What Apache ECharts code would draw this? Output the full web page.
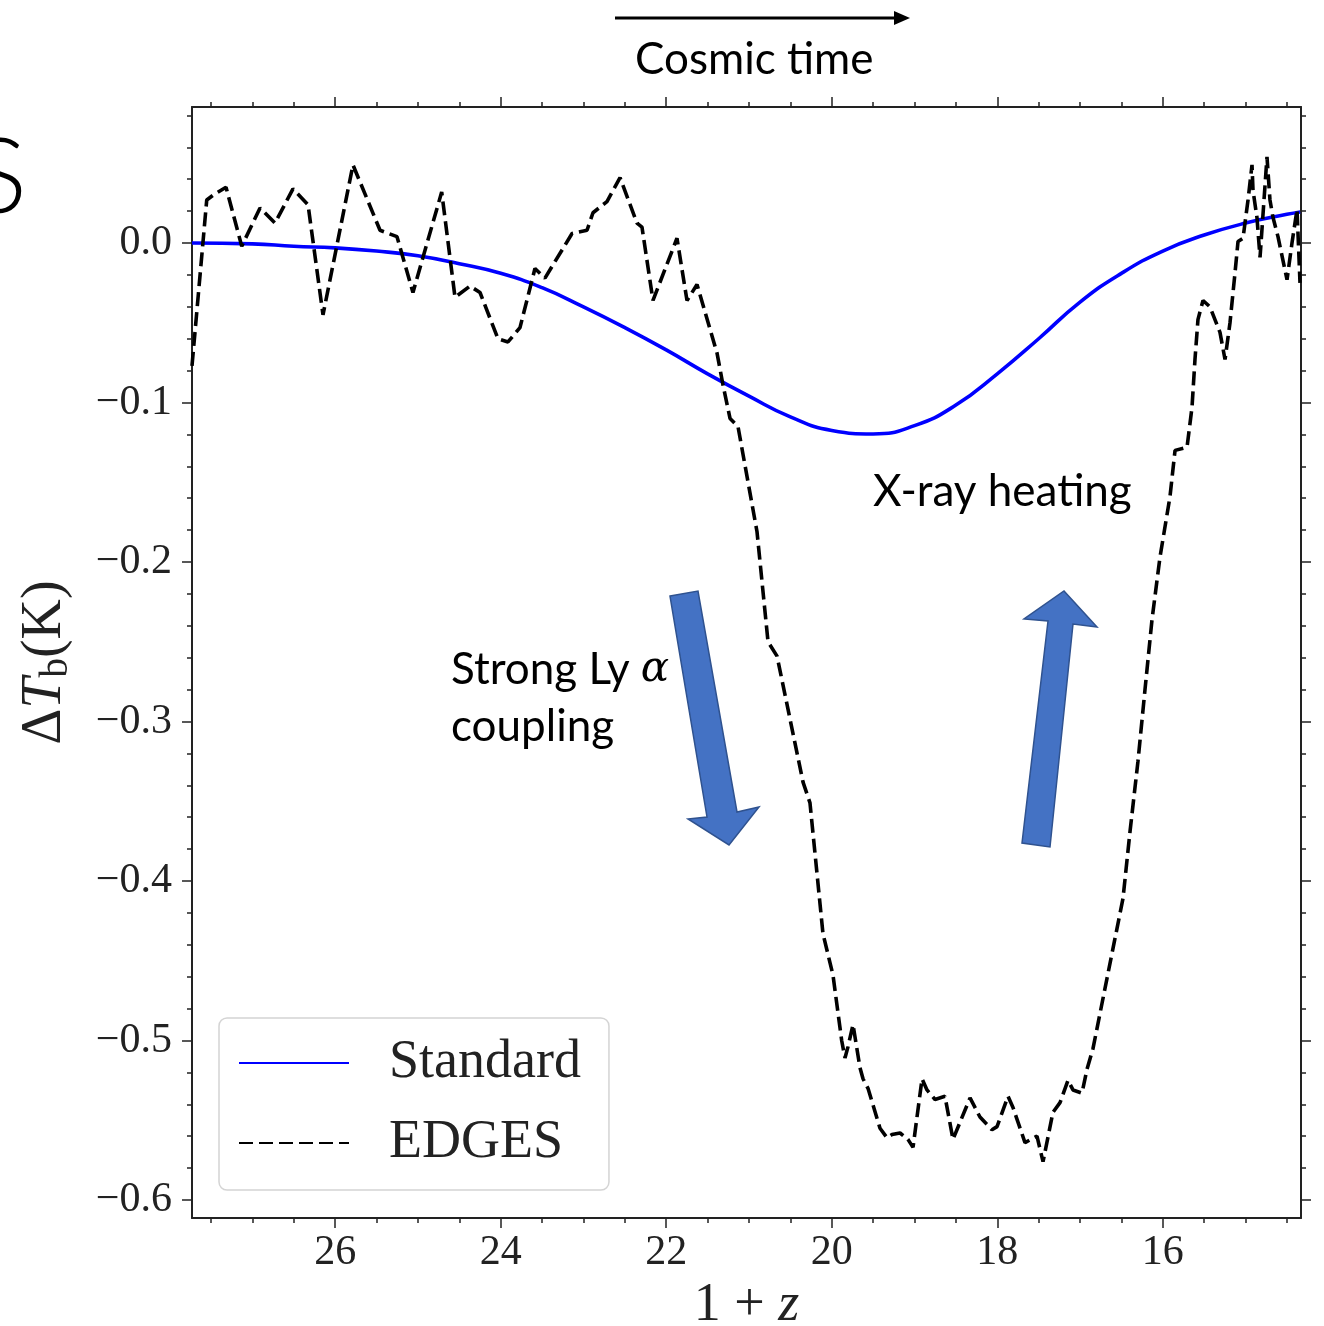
<!DOCTYPE html>
<html>
<head>
<meta charset="utf-8">
<script src="https://cdn.jsdelivr.net/npm/echarts@6/dist/echarts.min.js"></script>
<style>
html,body{margin:0;padding:0;background:#fff;}
#chart{width:1324px;height:1326px;}
</style>
</head>
<body>
<div id="chart"></div>
<script>
// ---- data ----
const standardX = [27.73, 27.0, 26.5, 26.0, 25.5, 25.0, 24.5, 24.0, 23.5, 23.0, 22.5, 22.0, 21.5, 21.0, 20.5, 20.0, 19.5, 19.0, 18.5, 18.0, 17.5, 17.0, 16.5, 16.0, 15.5, 15.0, 14.5, 14.34];
const standardY = [0.000, -0.0005, -0.002, -0.003, -0.005, -0.008, -0.013, -0.019, -0.028, -0.040, -0.053, -0.067, -0.082, -0.096, -0.109, -0.1175, -0.1197, -0.1145, -0.1016, -0.082, -0.060, -0.037, -0.019, -0.005, 0.005, 0.0125, 0.018, 0.0195];

const edgesX = [27.73, 27.552, 27.476, 27.319, 27.129, 26.908, 26.727, 26.510, 26.328, 26.147, 25.785, 25.458, 25.253, 25.060, 24.713, 24.552, 24.371, 24.250, 24.033, 23.912, 23.767, 23.586, 23.465, 23.138, 22.957, 22.885, 22.716, 22.558, 22.353, 22.293, 22.160, 21.870, 21.749, 21.628, 21.386, 21.314, 21.229, 21.133, 20.903, 20.770, 20.661, 20.347, 20.263, 20.106, 19.985, 19.880, 19.840, 19.804, 19.743, 19.659, 19.622, 19.562, 19.417, 19.332, 19.272, 19.175, 19.079, 19.018, 18.909, 18.849, 18.752, 18.632, 18.535, 18.329, 18.209, 18.064, 18.003, 17.870, 17.810, 17.665, 17.520, 17.447, 17.327, 17.242, 17.145, 17.085, 16.976, 16.916, 16.843, 16.674, 16.481, 16.396, 16.300, 16.215, 16.130, 16.034, 15.913, 15.852, 15.707, 15.647, 15.611, 15.575, 15.514, 15.430, 15.309, 15.248, 15.188, 15.128, 15.091, 15.031, 14.970, 14.922, 14.910, 14.862, 14.825, 14.741, 14.705, 14.668, 14.608, 14.499, 14.439, 14.378, 14.342];
const edgesY = [-0.077, 0.027, 0.030, 0.035, -0.002, 0.022, 0.0125, 0.034, 0.024, -0.045, 0.049, 0.008, 0.004, -0.031, 0.032, -0.034, -0.027, -0.031, -0.060, -0.062, -0.053, -0.016, -0.022, 0.006, 0.008, 0.019, 0.026, 0.041, 0.0125, 0.010, -0.036, 0.003, -0.036, -0.026, -0.069, -0.089, -0.110, -0.115, -0.181, -0.250, -0.259, -0.338, -0.351, -0.433, -0.459, -0.500, -0.511, -0.504, -0.490, -0.517, -0.524, -0.530, -0.555, -0.561, -0.559, -0.558, -0.562, -0.567, -0.524, -0.531, -0.537, -0.535, -0.562, -0.536, -0.548, -0.556, -0.554, -0.535, -0.542, -0.564, -0.560, -0.576, -0.545, -0.539, -0.525, -0.531, -0.533, -0.518, -0.505, -0.461, -0.411, -0.369, -0.325, -0.280, -0.236, -0.197, -0.159, -0.130, -0.128, -0.103, -0.073, -0.048, -0.036, -0.040, -0.056, -0.073, -0.050, -0.019, 0.001, 0.003, 0.027, 0.049, 0.033, 0.016, -0.009, 0.054, 0.027, 0.016, 0.004, -0.023, 0.000, 0.021, -0.025];

const xMajorTicks = [16, 18, 20, 22, 24, 26];
const xMinorTicks = [14.5, 15, 15.5, 16.5, 17, 17.5, 18.5, 19, 19.5, 20.5, 21, 21.5, 22.5, 23, 23.5, 24.5, 25, 25.5, 26.5, 27, 27.5];
const yMajorTicks = [-0.6, -0.5, -0.4, -0.3, -0.2, -0.1, 0.0];
const yMinorTicks = [-0.58, -0.56, -0.54, -0.52, -0.48, -0.46, -0.44, -0.42, -0.38, -0.36, -0.34, -0.32, -0.28, -0.26, -0.24, -0.22, -0.18, -0.16, -0.14, -0.12, -0.08, -0.06, -0.04, -0.02, 0.02, 0.04, 0.06, 0.08];

const seriesNames = ['Standard', 'EDGES'];
const xRange = [14.33, 27.73];
const yRange = [-0.6113, 0.0853];

// ---- styling ----
const SERIF = '"Liberation Serif", "DejaVu Serif", serif';
const SANS = 'Lato, "Open Sans", "Noto Sans", sans-serif';
const INK = '#222';

function zip(a, b) { return a.map((v, i) => [v, b[i]]); }

function xAxisDef(position, ticks, len, showLine, showLabels, extra) {
  return Object.assign({
    type: 'value', position: position, inverse: true,
    min: xRange[0], max: xRange[1],
    splitLine: { show: false },
    axisLine: { show: showLine, onZero: false, lineStyle: { color: INK, width: 2 } },
    axisTick: { show: true, inside: false, length: len, customValues: ticks, lineStyle: { color: INK, width: 1.5 } },
    axisLabel: showLabels ? { show: true, customValues: ticks, margin: 14, fontFamily: SERIF, fontSize: 42, color: INK } : { show: false }
  }, extra || {});
}
function yAxisDef(position, ticks, len, showLine, showLabels, extra) {
  return Object.assign({
    type: 'value', position: position,
    min: yRange[0], max: yRange[1],
    splitLine: { show: false },
    axisLine: { show: showLine, onZero: false, lineStyle: { color: INK, width: 2 } },
    axisTick: { show: true, inside: false, length: len, customValues: ticks, lineStyle: { color: INK, width: 1.5 } },
    axisLabel: showLabels ? {
      show: true, customValues: ticks, margin: 20, fontFamily: SERIF, fontSize: 42, color: INK,
      formatter: v => (v < 0 ? '\u2212' : '') + Math.abs(v).toFixed(1)
    } : { show: false }
  }, extra || {});
}

const chart = echarts.init(document.getElementById('chart'), null, { renderer: 'canvas' });

const option = {
  backgroundColor: '#ffffff',
  animation: false,
  grid: { left: 192, right: 23, top: 107, bottom: 108, containLabel: false, outerBoundsMode: 'none' },
  xAxis: [
    xAxisDef('bottom', xMajorTicks, 10, true, true, {
      name: '1 + {i|z}', nameLocation: 'middle', nameGap: 60,
      nameTextStyle: { fontFamily: SERIF, fontSize: 54, color: INK,
        rich: { i: { fontFamily: SERIF, fontStyle: 'italic', fontSize: 54, color: INK } } }
    }),
    xAxisDef('bottom', xMinorTicks, 5, false, false),
    xAxisDef('top', xMajorTicks, 10, true, false),
    xAxisDef('top', xMinorTicks, 5, false, false)
  ],
  yAxis: [
    yAxisDef('left', yMajorTicks, 10, true, true, {
      name: '{n|\u0394}{t|T}{s|b}{n|(K)}', nameLocation: 'middle', nameGap: 116, nameRotate: 90,
      nameTextStyle: { fontFamily: SERIF, fontSize: 56, color: INK,
        rich: {
          n: { fontFamily: SERIF, fontSize: 56, lineHeight: 62, color: INK },
          t: { fontFamily: SERIF, fontStyle: 'italic', fontSize: 56, lineHeight: 62, color: INK },
          s: { fontFamily: SERIF, fontSize: 39, lineHeight: 32, verticalAlign: 'bottom', color: INK }
        } }
    }),
    yAxisDef('left', yMinorTicks, 5, false, false),
    yAxisDef('right', yMajorTicks, 10, true, false),
    yAxisDef('right', yMinorTicks, 5, false, false)
  ],
  legend: {
    data: seriesNames,
    orient: 'vertical',
    left: 219, top: 1018,
    padding: [18, 28, 20, 19],
    itemWidth: 110, itemHeight: 56, itemGap: 26,
    backgroundColor: '#ffffff',
    borderColor: '#d4d4d4', borderWidth: 1.5, borderRadius: 8,
    selectedMode: false,
    itemStyle: { opacity: 0, borderWidth: 0 },
    textStyle: { fontFamily: SERIF, fontSize: 54, color: INK, padding: [0, 0, 0, 35] }
  },
  series: [
    {
      name: seriesNames[0], type: 'line', xAxisIndex: 0, yAxisIndex: 0,
      data: zip(standardX, standardY), smooth: 0.5, symbol: 'none',
      lineStyle: { color: '#0000ff', width: 3.6 }, itemStyle: { color: '#0000ff' }, z: 3
    },
    {
      name: seriesNames[1], type: 'line', xAxisIndex: 0, yAxisIndex: 0,
      data: zip(edgesX, edgesY), smooth: false, symbol: 'none',
      lineStyle: { color: '#000000', width: 3.6, type: [14, 6] }, itemStyle: { color: '#000000' }, z: 4
    }
  ],
  graphic: [
    // top "Cosmic time" arrow
    { type: 'line', shape: { x1: 615, y1: 18, x2: 897, y2: 18 }, style: { stroke: '#000', lineWidth: 3 }, z: 10 },
    { type: 'polygon', shape: { points: [[894, 11], [910, 18], [894, 25]] }, style: { fill: '#000' }, z: 10 },
    { type: 'text', x: 635, y: 60, style: { text: 'Cosmic time', fontFamily: SANS, fontSize: 44, fill: '#000', align: 'left', verticalAlign: 'middle' }, z: 10 },
    // clipped letter at left edge
    { type: 'text', x: 27, y: 179, style: { text: 'S', fontFamily: SANS, fontWeight: 300, fontSize: 104, fill: '#000', align: 'right', verticalAlign: 'middle' }, z: 10 },
    // annotations
    { type: 'text', x: 873, y: 492, style: { text: 'X-ray heating', fontFamily: SANS, fontSize: 44, fill: '#000', align: 'left', verticalAlign: 'middle' }, z: 10 },
    { type: 'text', x: 451, y: 670, style: { text: 'Strong Ly {a|\u03b1}', fontFamily: SANS, fontSize: 44, fill: '#000', align: 'left', verticalAlign: 'middle',
      rich: { a: { fontFamily: '"DejaVu Serif", serif', fontStyle: 'italic', fontSize: 42, fill: '#000' } } }, z: 10 },
    { type: 'text', x: 451, y: 727, style: { text: 'coupling', fontFamily: SANS, fontSize: 44, fill: '#000', align: 'left', verticalAlign: 'middle' }, z: 10 },
    // block arrows
    { type: 'polygon', shape: { points: [[670, 596], [698, 591], [737, 812], [759, 807], [729, 845], [688, 819], [707, 817]] },
      style: { fill: '#4472C4', stroke: '#2F528F', lineWidth: 1.5 }, z: 10 },
    { type: 'polygon', shape: { points: [[1022, 843], [1048, 621], [1024, 619], [1064, 591], [1097, 627], [1073, 624], [1050, 847]] },
      style: { fill: '#4472C4', stroke: '#2F528F', lineWidth: 1.5 }, z: 10 }
  ]
};

chart.setOption(option);
</script>
</body>
</html>
